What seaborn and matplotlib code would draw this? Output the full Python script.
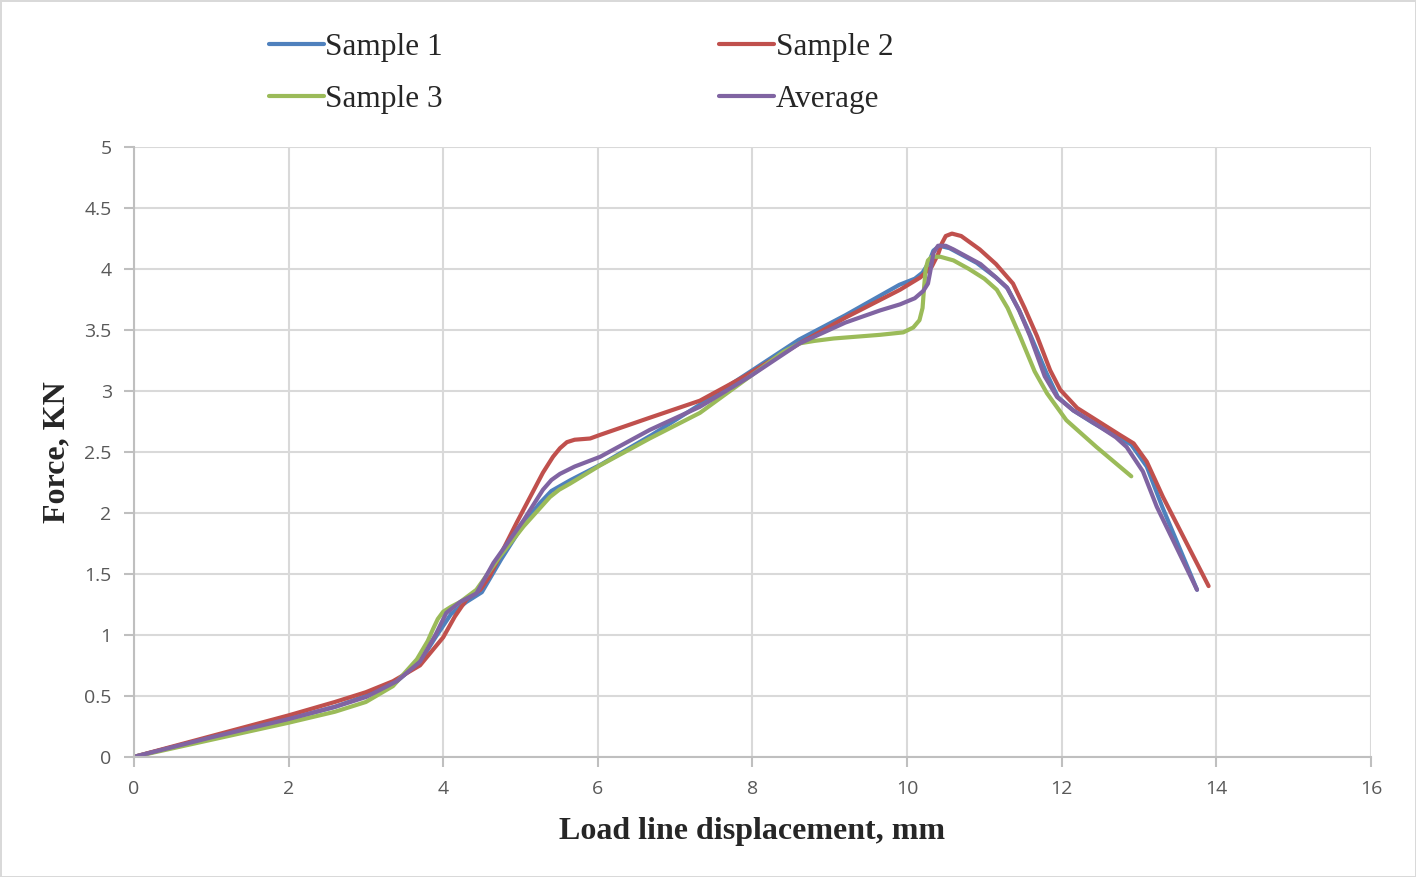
import numpy as np
import pandas as pd
import seaborn as sns
import matplotlib.pyplot as plt

# values
s1_x = [0, 1, 2, 2.6, 3, 3.4, 3.7, 3.9, 4.1, 4.3, 4.5, 4.75, 5.05, 5.25, 5.4, 5.65, 6.05, 6.7, 7.3, 8.0, 8.6,
        9.2, 9.9, 10.1, 10.2, 10.28, 10.34, 10.42, 10.55, 10.9, 11.15, 11.3, 11.45, 11.6, 11.8, 11.95, 12.15,
        12.4, 12.7, 12.9, 13.1, 13.3, 13.75]
s1_y = [0, 0.16, 0.31, 0.41, 0.50, 0.62, 0.78, 0.98, 1.17, 1.27, 1.35, 1.62, 1.92, 2.08, 2.18, 2.27, 2.40, 2.64,
        2.88, 3.17, 3.42, 3.62, 3.87, 3.92, 3.97, 4.05, 4.15, 4.19, 4.17, 4.05, 3.93, 3.84, 3.66, 3.45, 3.15, 2.95,
        2.84, 2.74, 2.63, 2.56, 2.38, 2.05, 1.37]

s2_x = [0, 1, 2, 2.6, 3, 3.35, 3.7, 4.0, 4.15, 4.3, 4.4, 4.48, 4.6, 4.95, 5.29, 5.42, 5.51, 5.6, 5.7, 5.9, 6.03,
        6.67, 7.32, 7.9, 8.61, 9.2, 9.91, 10.17, 10.32, 10.4, 10.45, 10.5, 10.58, 10.7, 10.94, 11.15, 11.37,
        11.52, 11.68, 11.85, 11.98, 12.2, 12.45, 12.75, 12.93, 13.1, 13.31, 13.9]
s2_y = [0, 0.17, 0.34, 0.45, 0.53, 0.62, 0.75, 0.98, 1.15, 1.29, 1.34, 1.37, 1.48, 1.92, 2.33, 2.46, 2.53, 2.58,
        2.60, 2.61, 2.64, 2.78, 2.92, 3.12, 3.39, 3.60, 3.83, 3.93, 4.02, 4.12, 4.21, 4.27, 4.29, 4.27, 4.16,
        4.04, 3.88, 3.68, 3.45, 3.17, 3.01, 2.86, 2.76, 2.64, 2.57, 2.42, 2.13, 1.40]

s3_x = [0, 1, 2, 2.6, 3, 3.35, 3.66, 3.8, 3.87, 3.93, 4.0, 4.1, 4.22, 4.43, 4.73, 5.04, 5.38, 5.5, 5.64, 6.03,
        6.67, 7.32, 7.97, 8.4, 8.61, 8.8, 9.05, 9.65, 9.95, 10.08, 10.16, 10.2, 10.22, 10.24, 10.27, 10.32,
        10.43, 10.6, 10.8, 11.0, 11.16, 11.3, 11.46, 11.65, 11.81, 12.06, 12.45, 12.9]
s3_y = [0, 0.14, 0.28, 0.37, 0.45, 0.58, 0.80, 0.95, 1.05, 1.13, 1.19, 1.23, 1.27, 1.37, 1.64, 1.89, 2.13, 2.19,
        2.24, 2.39, 2.61, 2.82, 3.12, 3.32, 3.39, 3.41, 3.43, 3.46, 3.48, 3.52, 3.58, 3.68, 3.85, 4.00, 4.07,
        4.10, 4.10, 4.07, 4.00, 3.92, 3.83, 3.68, 3.45, 3.16, 2.98, 2.76, 2.54, 2.30]

avg_x = [0, 1, 2, 2.6, 3, 3.4, 3.7, 3.9, 4.04, 4.22, 4.43, 4.65, 5.04, 5.29, 5.4, 5.51, 5.7, 6.03, 6.67, 7.32,
         7.97, 8.61, 9.2, 9.65, 9.91, 10.1, 10.21, 10.27, 10.3, 10.34, 10.4, 10.5, 10.6, 10.95, 11.15, 11.29,
         11.45, 11.59, 11.78, 11.94, 12.15, 12.41, 12.7, 12.84, 13.05, 13.23, 13.75]
avg_y = [0, 0.16, 0.31, 0.41, 0.49, 0.62, 0.78, 1.0, 1.18, 1.27, 1.34, 1.59, 1.94, 2.19, 2.27, 2.32, 2.38, 2.46,
         2.68, 2.87, 3.12, 3.39, 3.56, 3.66, 3.71, 3.76, 3.82, 3.88, 3.98, 4.13, 4.19, 4.19, 4.16, 4.04, 3.93,
         3.85, 3.66, 3.45, 3.12, 2.95, 2.84, 2.74, 2.62, 2.54, 2.34, 2.05, 1.37]

series_names = ['Sample 1', 'Sample 2', 'Sample 3', 'Average']
series_colors = ['#4F81BD', '#C0504D', '#9BBB59', '#8064A2']

x_ticks = [0, 2, 4, 6, 8, 10, 12, 14, 16]
y_ticks = [0, 0.5, 1, 1.5, 2, 2.5, 3, 3.5, 4, 4.5, 5]
y_tick_labels = ['0', '0.5', '1', '1.5', '2', '2.5', '3', '3.5', '4', '4.5', '5']

frames = []
for name, xs, ys in zip(series_names, [s1_x, s2_x, s3_x, avg_x], [s1_y, s2_y, s3_y, avg_y]):
    frames.append(pd.DataFrame({'x': xs, 'y': ys, 'series': name}))
df = pd.concat(frames, ignore_index=True)

sns.set_style('white')
plt.rcParams['font.family'] = ['Liberation Serif', 'DejaVu Serif']

fig = plt.figure(figsize=(14.16, 8.77), dpi=100)
fig.patch.set_edgecolor('#d9d9d9')
fig.patch.set_linewidth(2)
ax = fig.add_axes([0.0946, 0.137, 0.8736, 0.6954])

sns.lineplot(
    data = df, x = 'x', y = 'y', hue = 'series',
    hue_order = series_names, palette = series_colors,
    sort = False, estimator = None,
    lw = 3.0, ax = ax, legend = True
)
for line in ax.get_lines():
    line.set_solid_joinstyle('round')
    line.set_solid_capstyle('round')

ax.set_xlim(0, 16)
ax.set_ylim(0, 5)
ax.set_xticks(x_ticks)
ax.set_yticks(y_ticks)
ax.set_yticklabels(y_tick_labels)
ax.grid(True, color='#d9d9d9', lw=1.5)
ax.set_axisbelow(True)
for side in ['top', 'right']:
    ax.spines[side].set_visible(False)
for side in ['left', 'bottom']:
    ax.spines[side].set_color('#bfbfbf')
    ax.spines[side].set_linewidth(1.5)
ax.tick_params(axis='both', direction='out', length=7, width=1.5, color='#bfbfbf',
               labelcolor='#595959', labelsize=14, left=True, bottom=True)
for lab in ax.get_xticklabels() + ax.get_yticklabels():
    lab.set_family(['Open Sans', 'DejaVu Sans'])
ax.tick_params(axis='y', pad=9)
ax.tick_params(axis='x', pad=10)

ax.set_xlabel('Load line displacement, mm', fontsize=23, fontweight='bold', labelpad=13)
ax.set_ylabel('Force, KN', fontsize=23, fontweight='bold', labelpad=9)

handles, labels = ax.get_legend_handles_labels()
ax.get_legend().remove()
order = [0, 2, 1, 3]
fig.legend([handles[i] for i in order], [labels[i] for i in order], ncol=2, loc='upper left',
           bbox_to_anchor=(0.17, 0.994), frameon=False, fontsize=22.5, handlelength=1.75,
           handletextpad=0.05, columnspacing=8.85, labelspacing=0.72)

fig.savefig('out.png', dpi=100)
